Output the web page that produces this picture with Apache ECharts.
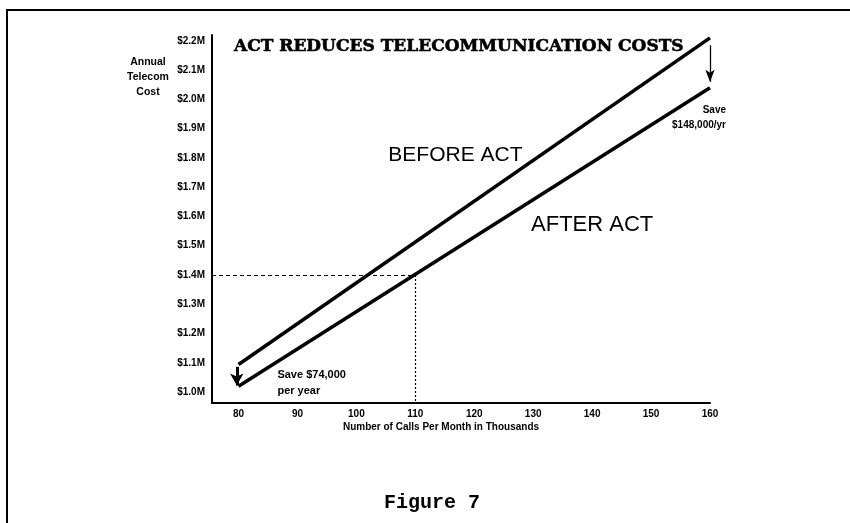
<!DOCTYPE html>
<html>
<head>
<meta charset="utf-8">
<script src="https://cdn.jsdelivr.net/npm/echarts@6/dist/echarts.min.js"></script>
<style>
  html, body { margin: 0; padding: 0; background: #fff; }
  #chart { width: 850px; height: 523px; }
</style>
</head>
<body>
<div id="chart"></div>
<script>
// Calls per month (thousands) at each end of the cost lines
const calls = [80, 160];
// Annual telecom cost in $M
const costBefore = [1.094, 2.21];
const costAfter = [1.02, 2.04];
// Axis tick labels
const xTicks = [80, 90, 100, 110, 120, 130, 140, 150, 160];
const yTicks = [1.0, 1.1, 1.2, 1.3, 1.4, 1.5, 1.6, 1.7, 1.8, 1.9, 2.0, 2.1, 2.2];
// Reference crosshair: $1.4M reached at 110k calls after ACT
const refCalls = 110;
const refCost = 1.4;

const X_MIN = 75.5, X_MAX = 160;
const Y_MIN = 0.9625, Y_MAX = 2.22;

const tickFont = { fontFamily: 'Liberation Sans', fontWeight: 'bold', fontSize: 10, color: '#000' };

// invisible anchor for text annotations placed in data coordinates
const note = (coord, text, extra) => ({
  coord: coord, symbol: 'circle', symbolSize: 1, itemStyle: { color: 'rgba(0,0,0,0)' },
  label: Object.assign({ show: true, position: 'inside', formatter: text, color: '#000' }, extra)
});

const chart = echarts.init(document.getElementById('chart'));

chart.setOption({
  backgroundColor: '#fff',
  animation: false,
  title: {
    text: 'ACT REDUCES TELECOMMUNICATION COSTS',
    left: 229, top: 33,
    textStyle: { fontFamily: 'DejaVu Serif', fontWeight: 'bold', fontSize: 17, color: '#000',
                 textBorderColor: '#000', textBorderWidth: 0.6 }
  },
  grid: { left: 212, right: 140, top: 35, bottom: 120 },
  xAxis: {
    type: 'value', min: X_MIN, max: X_MAX,
    axisLine: { show: true, lineStyle: { color: '#000', width: 2 } },
    axisTick: { show: false },
    splitLine: { show: false },
    axisLabel: Object.assign({ customValues: xTicks, margin: 6, formatter: v => String(v) }, tickFont)
  },
  yAxis: {
    type: 'value', min: Y_MIN, max: Y_MAX,
    axisLine: { show: true, lineStyle: { color: '#000', width: 2 } },
    axisTick: { show: false },
    splitLine: { show: false },
    axisLabel: Object.assign({ customValues: yTicks, margin: 7, formatter: v => '$' + v.toFixed(1) + 'M' }, tickFont)
  },
  graphic: [
    { type: 'polyline', silent: true,
      shape: { points: [[7, 523], [7, 10], [850, 10]] },
      style: { stroke: '#000', lineWidth: 2, fill: null } },
    { type: 'text', x: 148, y: 55, silent: true,
      style: { text: 'Annual\nTelecom\nCost', align: 'center', lineHeight: 15,
               fontFamily: 'Liberation Sans', fontWeight: 'bold', fontSize: 10.5, fill: '#000' } },
    { type: 'text', x: 441, y: 422, silent: true,
      style: { text: 'Number of Calls Per Month in Thousands', align: 'center',
               fontFamily: 'Liberation Sans', fontWeight: 'bold', fontSize: 10, fill: '#000' } },
    { type: 'text', x: 432, y: 493, silent: true,
      style: { text: 'Figure 7', align: 'center', fontFamily: 'Liberation Mono', fontWeight: 'bold', fontSize: 20, fill: '#000' } }
  ],
  series: [
    {
      name: 'BEFORE ACT', type: 'line', symbol: 'none', clip: false,
      data: calls.map((c, i) => [c, costBefore[i]]),
      lineStyle: { color: '#000', width: 3.5 },
      markPoint: {
        data: [note([116.8, 1.81], 'BEFORE ACT', { fontFamily: 'Liberation Sans', fontSize: 21 })]
      },
      markLine: {
        silent: true, symbol: ['none', 'arrow'], symbolSize: [10, 12],
        label: { show: false },
        lineStyle: { color: '#000', width: 3, type: 'solid' },
        data: [[{ coord: [79.7, 1.086] }, { coord: [79.7, 1.022] }]]
      }
    },
    {
      name: 'AFTER ACT', type: 'line', symbol: 'none', clip: false,
      data: calls.map((c, i) => [c, costAfter[i]]),
      lineStyle: { color: '#000', width: 3.5 },
      markPoint: {
        data: [
          note([140, 1.57], 'AFTER ACT', { fontFamily: 'Liberation Sans', fontSize: 22 }),
          note([86.6, 1.03], 'Save $74,000\nper year', { align: 'left', lineHeight: 16,
            fontFamily: 'Liberation Sans', fontWeight: 'bold', fontSize: 11 }),
          note([160, 1.936], 'Save\n$148,000/yr', { align: 'right', lineHeight: 15, offset: [16, 0],
            fontFamily: 'Liberation Sans', fontWeight: 'bold', fontSize: 10 })
        ]
      },
      markLine: {
        silent: true, symbol: ['none', 'arrow'], symbolSize: [7, 12],
        label: { show: false },
        data: [
          [{ coord: [160, 2.185], lineStyle: { color: '#000', width: 1.3, type: 'solid' } },
           { coord: [160, 2.06] }],
          [{ coord: [X_MIN, refCost], symbol: 'none', lineStyle: { color: '#000', width: 1.2, type: [4, 3] } },
           { coord: [refCalls, refCost], symbol: 'none' }],
          [{ coord: [refCalls, refCost], symbol: 'none', lineStyle: { color: '#000', width: 1.2, type: [2, 2] } },
           { coord: [refCalls, Y_MIN], symbol: 'none' }]
        ]
      }
    }
  ]
});
</script>
</body>
</html>
